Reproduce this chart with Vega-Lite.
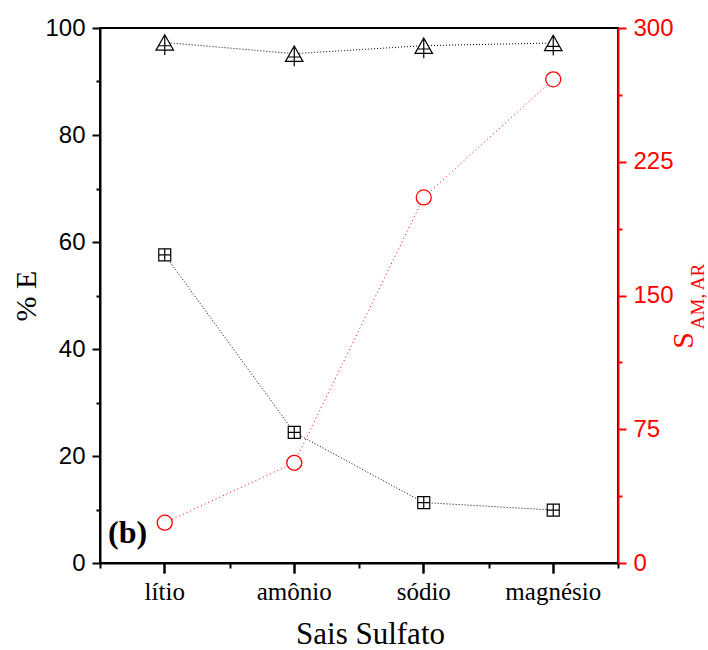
{
  "$schema": "https://vega.github.io/schema/vega-lite/v6.json",
  "autosize": {"type": "none"},
  "padding": {"left": 100, "top": 28, "right": 90, "bottom": 87},
  "width": 518,
  "height": 535,
  "background": "white",
  "config": {
    "view": {"stroke": "#000", "strokeWidth": 2},
    "axis": {"grid": false, "domainWidth": 2, "tickWidth": 2, "domainColor": "#000", "tickColor": "#000", "titleFont": "Liberation Serif", "titleFontWeight": "normal"}
  },
  "datasets": {
    "d": [
      {"sal": "lítio", "tri": 97.3, "sq": 57.6, "circ": 22.6},
      {"sal": "amônio", "tri": 95.2, "sq": 24.4, "circ": 56.2},
      {"sal": "sódio", "tri": 96.7, "sq": 11.3, "circ": 205},
      {"sal": "magnésio", "tri": 97.2, "sq": 9.9, "circ": 271.2}
    ],
    "lab": [{"sal": "lítio", "v": 3.7, "txt": "(b)"}]
  },
  "data": {"name": "d"},
  "layer": [
    {
      "encoding": {
        "x": {"field": "sal", "type": "nominal", "sort": null, "title": "Sais Sulfato",
          "scale": {"type": "band", "paddingInner": 0, "paddingOuter": 0},
          "axis": {"orient": "bottom", "titleFont": "Liberation Serif", "titleFontSize": 31, "titleFontWeight": "normal", "titleColor": "#000", "titlePadding": 15, "titleX": 270,
            "labelFont": "Liberation Serif", "labelFontSize": 25, "labelColor": "#000", "labelPadding": 6, "labelAngle": 0, "ticks": true, "tickSize": 10, "tickColor": "#000", "tickBand": "center", "bandPosition": 0.5, "domain": true}}
      },
      "layer": [
        {"mark": {"type": "line", "color": "#000", "strokeWidth": 1, "strokeDash": [1, 2]},
          "encoding": {"y": {"field": "tri", "type": "quantitative", "scale": {"domain": [0, 100], "nice": false, "zero": false},
            "axis": {"title": "% E", "values": [0, 20, 40, 60, 80, 100], "tickSize": 8, "labelFont": "Liberation Sans", "labelFontSize": 24, "labelColor": "#000", "labelPadding": 7, "titleFont": "Liberation Serif", "titleFontSize": 30, "titleFontWeight": "normal", "titleColor": "#000", "titlePadding": 3}}}},
        {"mark": {"type": "line", "color": "#000", "strokeWidth": 1, "strokeDash": [1, 2]},
          "encoding": {"y": {"field": "sq", "type": "quantitative", "scale": {"domain": [0, 100], "nice": false, "zero": false},
            "axis": {"title": "% E", "values": [0, 20, 40, 60, 80, 100], "tickSize": 8, "labelFont": "Liberation Sans", "labelFontSize": 24, "labelColor": "#000", "labelPadding": 7, "titleFont": "Liberation Serif", "titleFontSize": 30, "titleFontWeight": "normal", "titleColor": "#000", "titlePadding": 3}}}},
        {"mark": {"type": "point", "shape": "M0,-0.88L1,0.88L-1,0.88Z M-0.72,0.38L0.72,0.38 M0,-0.88L0,1.43", "size": 306, "filled": true, "fill": "#fff", "fillOpacity": 1, "stroke": "#000", "strokeWidth": 1.2, "opacity": 1},
          "encoding": {"y": {"field": "tri", "type": "quantitative", "scale": {"domain": [0, 100], "nice": false, "zero": false},
            "axis": {"title": "% E", "values": [0, 20, 40, 60, 80, 100], "tickSize": 8, "labelFont": "Liberation Sans", "labelFontSize": 24, "labelColor": "#000", "labelPadding": 7, "titleFont": "Liberation Serif", "titleFontSize": 30, "titleFontWeight": "normal", "titleColor": "#000", "titlePadding": 3}}}},
        {"mark": {"type": "point", "shape": "M-1,-1H1V1H-1Z M-1,0H1 M0,-1V1", "size": 144, "filled": true, "fill": "#fff", "fillOpacity": 1, "stroke": "#000", "strokeWidth": 1.2, "opacity": 1},
          "encoding": {"y": {"field": "sq", "type": "quantitative", "scale": {"domain": [0, 100], "nice": false, "zero": false},
            "axis": {"title": "% E", "values": [0, 20, 40, 60, 80, 100], "tickSize": 8, "labelFont": "Liberation Sans", "labelFontSize": 24, "labelColor": "#000", "labelPadding": 7, "titleFont": "Liberation Serif", "titleFontSize": 30, "titleFontWeight": "normal", "titleColor": "#000", "titlePadding": 3}}}}
      ]
    },
    {
      "data": {"name": "lab"},
      "mark": {"type": "text", "font": "Liberation Serif", "fontSize": 32, "fontWeight": "bold", "align": "left", "baseline": "alphabetic", "dx": 8, "color": "#000"},
      "encoding": {
        "x": {"field": "sal", "type": "nominal", "sort": null, "bandPosition": 0, "axis": null},
        "y": {"field": "v", "type": "quantitative", "scale": {"domain": [0, 100], "nice": false, "zero": false}, "axis": null},
        "text": {"field": "txt"}
      }
    },
    {
      "encoding": {
        "x": {"field": "sal", "type": "nominal", "sort": null, "axis": null},
        "y": {"field": "circ", "type": "quantitative", "scale": {"domain": [0, 300], "nice": false, "zero": false},
          "axis": {"orient": "right", "title": "S", "values": [0, 75, 150, 225, 300], "tickSize": 8, "domainColor": "#ff0000", "tickColor": "#ff0000", "labelColor": "#ff0000", "labelFont": "Liberation Sans", "labelFontSize": 24, "labelPadding": 7,
            "titleFont": "Liberation Serif", "titleFontSize": 30, "titleFontWeight": "normal", "titleColor": "#ff0000", "titleAngle": 270, "titleAlign": "center", "titleBaseline": "alphabetic", "titleX": 74, "titleY": 312}}
      },
      "layer": [
        {"mark": {"type": "line", "color": "#ff0000", "strokeWidth": 1, "strokeDash": [1, 3]}},
        {"mark": {"type": "point", "shape": "circle", "size": 225, "filled": true, "fill": "#fff", "fillOpacity": 1, "stroke": "#ff0000", "strokeWidth": 1.3, "opacity": 1}}
      ]
    },
    {
      "mark": {"type": "point", "opacity": 0},
      "encoding": {
        "x": {"field": "sal", "type": "nominal", "sort": null, "axis": {"orient": "bottom", "tickBand": "extent", "tickSize": 5, "labels": false, "domain": false, "title": null}},
        "y": {"field": "sq", "type": "quantitative", "scale": {"domain": [0, 100], "nice": false, "zero": false},
          "axis": {"orient": "left", "values": [10, 30, 50, 70, 90], "tickSize": 4, "labels": false, "domain": false, "title": null}}
      }
    },
    {
      "mark": {"type": "point", "opacity": 0},
      "encoding": {
        "x": {"field": "sal", "type": "nominal", "sort": null, "axis": {"orient": "bottom", "tickBand": "center", "bandPosition": 0.5, "tickSize": 10, "tickColor": "#000", "labels": false, "domain": false, "title": null}},
        "y": {"field": "circ", "type": "quantitative", "scale": {"domain": [0, 300], "nice": false, "zero": false},
          "axis": {"orient": "right", "values": [37.5, 112.5, 187.5, 262.5], "tickSize": 4, "tickColor": "#ff0000", "labels": false, "domain": false, "title": null}}
      }
    },
    {
      "mark": {"type": "point", "opacity": 0},
      "encoding": {
        "x": {"field": "sal", "type": "nominal", "sort": null, "axis": null},
        "y": {"field": "circ", "type": "quantitative", "scale": {"domain": [0, 300], "nice": false, "zero": false},
          "axis": {"orient": "right", "ticks": false, "labels": false, "domain": false, "title": "AM, AR",
            "titleFont": "Liberation Serif", "titleFontSize": 19, "titleFontWeight": "normal", "titleColor": "#ff0000", "titleAngle": 270, "titleAlign": "center", "titleBaseline": "alphabetic", "titleX": 85, "titleY": 268}}
      }
    }
  ],
  "resolve": {"scale": {"y": "independent"}, "axis": {"x": "independent", "y": "independent"}}
}
